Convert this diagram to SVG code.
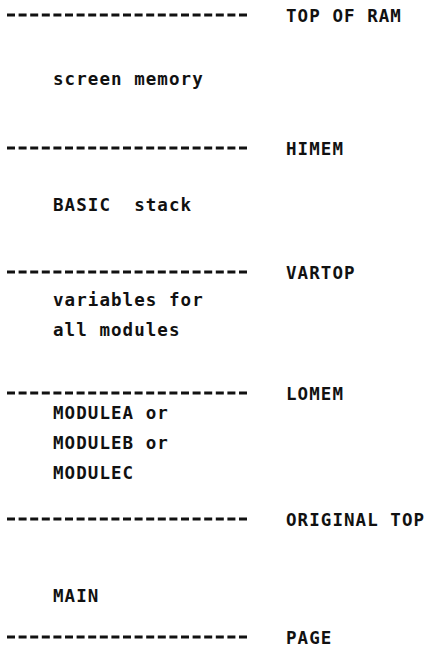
<svg xmlns="http://www.w3.org/2000/svg" width="430" height="660" viewBox="0 0 430 660">
<style>
.t{font-family:"DejaVu Sans Mono","Liberation Mono",monospace;font-size:17.5px;font-weight:bold;letter-spacing:1.06px;fill:#111;white-space:pre}
.d{stroke:#111;stroke-width:3;stroke-dasharray:8 3.6;fill:none}
</style>
<rect width="430" height="660" fill="#fff"/>
<g id="connectors">
<line class="d" x1="7" y1="15" x2="249" y2="15"/>
<line class="d" x1="7" y1="148" x2="249" y2="148"/>
<line class="d" x1="7" y1="272" x2="249" y2="272"/>
<line class="d" x1="7" y1="393" x2="249" y2="393"/>
<line class="d" x1="7" y1="519" x2="249" y2="519"/>
<line class="d" x1="7" y1="637" x2="249" y2="637"/>
</g>
<g id="top-of-ram"><text class="t" x="286" y="21.5">TOP OF RAM</text></g>
<g id="screen-memory"><text class="t" x="53" y="85">screen memory</text></g>
<g id="himem"><text class="t" x="286" y="154.5">HIMEM</text></g>
<g id="basic-stack"><text class="t" x="53" y="211" xml:space="preserve">BASIC  stack</text></g>
<g id="vartop"><text class="t" x="286" y="278.5">VARTOP</text></g>
<g id="variables"><text class="t" x="53" y="306">variables for</text><text class="t" x="53" y="336">all modules</text></g>
<g id="lomem"><text class="t" x="286" y="399.5">LOMEM</text></g>
<g id="modules"><text class="t" x="53" y="419">MODULEA or</text><text class="t" x="53" y="449">MODULEB or</text><text class="t" x="53" y="479">MODULEC</text></g>
<g id="original-top"><text class="t" x="286" y="525.5">ORIGINAL TOP</text></g>
<g id="main"><text class="t" x="53" y="602">MAIN</text></g>
<g id="page"><text class="t" x="286" y="643.5">PAGE</text></g>
</svg>
